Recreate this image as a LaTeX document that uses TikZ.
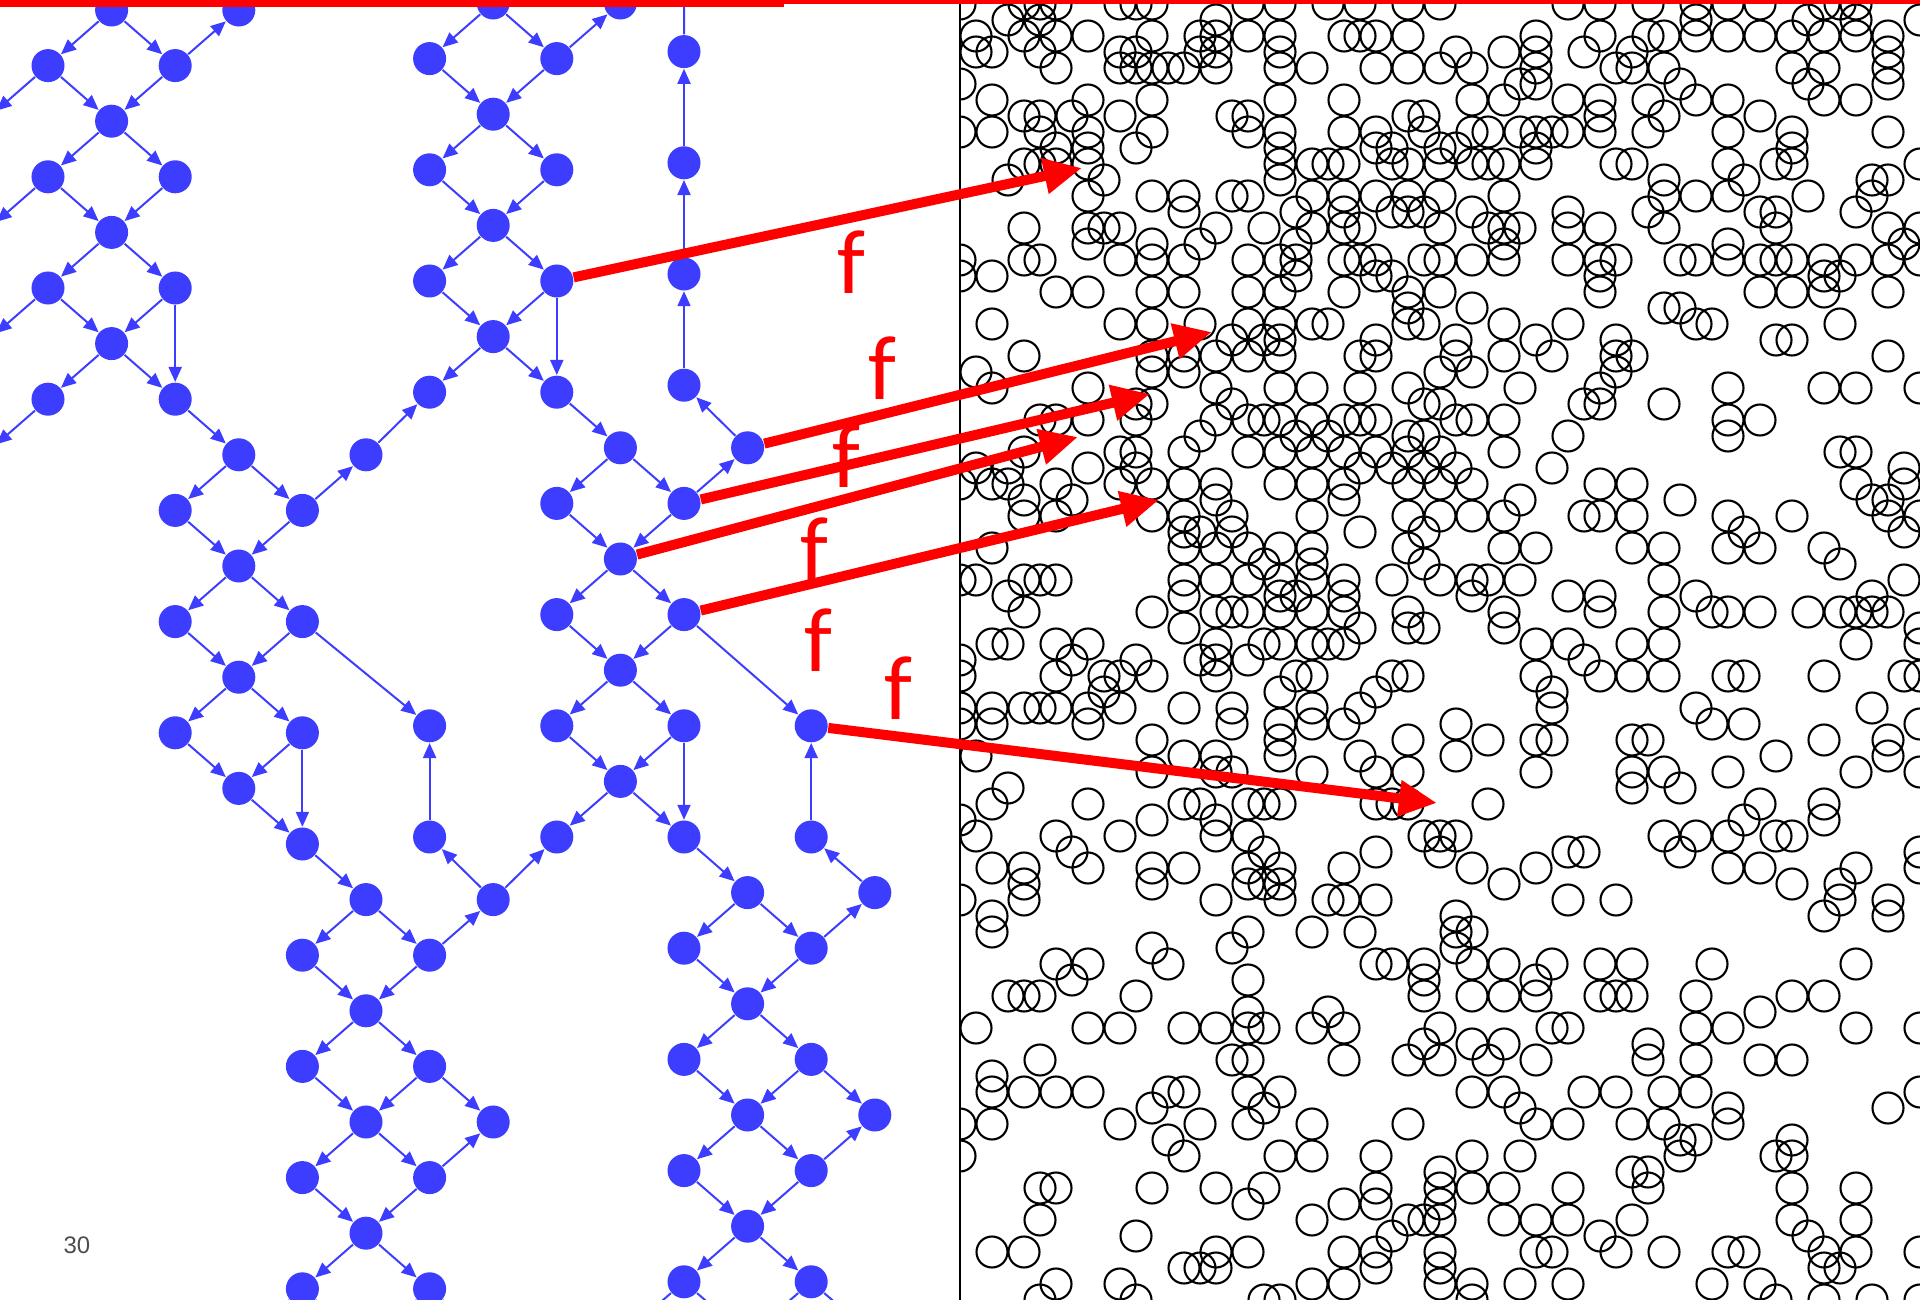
\documentclass[tikz,border=0pt]{standalone}
\usepackage{fontspec}
\newfontfamily\labelfont{Carlito}
\newfontfamily\numfont{Liberation Sans}
\usetikzlibrary{arrows.meta}
\definecolor{nodeblue}{RGB}{61,61,255}

\tikzset{
  dot/.style={circle, fill=nodeblue, inner sep=0pt, minimum size=0.33cm},
  edge/.style={-{Triangle[length=0.15cm,width=0.13cm]}, draw=nodeblue, line width=0.02cm},
  stub/.style={edge, shorten >=0.16cm},
  ring/.style={line width=0.021cm},
  mapto/.style={-{Triangle[length=0.38cm,width=0.34cm]}, draw=red, line width=0.1cm},
  flabel/.style={text=red, font=\labelfont\fontsize{26}{30}\selectfont, inner sep=0pt},
  pagenum/.style={text=black!70, font=\numfont\fontsize{6.8}{8}\selectfont, inner sep=0pt},
}

\begin{document}
\begin{tikzpicture}[x=0.01cm, y=-0.01cm]
    \useasboundingbox (0,0) rectangle (1920,1300);
    \clip (0,0) rectangle (1920,1300);

    % target space
    \begin{scope}
        \clip (960,0) rectangle (1920,1300);
        \pgfmathsetseed{2718}
        \foreach \m in {60,...,120}{
            \foreach \n in {0,...,81}{
                \pgfmathsetmacro\wgt{(mod(\m,2)==0 && mod(\n,2)==0) ? 2.2 : 0.6}
                \pgfmathsetmacro\dd{min(((16*\m-1020)/90)^2+((16*\n+4-260)/90)^2,100)}
                \pgfmathsetmacro\hole{1-0.75/(1+\dd)^2}
                \pgfmathsetmacro\dens{\wgt*\hole*(0.13+0.2/(1+((16*\m-1275)/230)^2+((16*\n+4-520)/290)^2)^2+0.13/(1+((16*\n+4)/230)^4))}
                \pgfmathsetmacro\roll{rnd}
                \ifdim\roll pt<\dens pt\relax
                    \draw[ring] ({16*\m},{16*\n+4}) circle (15.5);
                \fi
            }
        }
    \end{scope}
    \draw[line width=0.02cm] (960,4) -- (960,1300);

    % left lattice
    \foreach \k/\j in {1/0, 3/0, 0/1, 2/1, 1/2, 0/3, 2/3, 1/4, 0/5, 2/5, 1/6, 0/7, 2/7,
        3/8, 5/8, 2/9, 4/9, 3/10, 2/11, 4/11, 3/12, 2/13, 4/13, 3/14, 4/15, 5/16, 7/16,
        4/17, 6/17, 5/18, 4/19, 6/19, 5/20, 7/20, 4/21, 6/21, 5/22, 4/23, 6/23}
        \node[dot] (n\k-\j) at ({48+63.6*\k},{10+55.6*\j}) {};

    % middle lattice
    \foreach \k/\j in {7/0, 9/0, 6/1, 8/1, 7/2, 6/3, 8/3, 7/4, 6/5, 8/5, 7/6, 6/7, 8/7,
        9/8, 11/8, 8/9, 10/9, 9/10, 8/11, 10/11, 9/12, 6/13, 8/13, 10/13, 12/13, 9/14,
        6/15, 8/15, 10/15, 12/15, 11/16, 13/16, 10/17, 12/17, 11/18, 10/19, 12/19,
        11/20, 13/20, 10/21, 12/21, 11/22, 10/23, 12/23}
        \node[dot] (n\k-\j) at ({48+63.6*\k},{3+55.6*\j}) {};

    % chain
    \foreach \j in {1,3,5,7}
        \node[dot] (n10-\j) at ({48+63.6*10},{-4+55.6*\j}) {};

    % edges
    \foreach \a/\b in {1-0/0-1, 1-0/2-1, 2-1/3-0, 0-1/1-2, 2-1/1-2, 1-2/0-3, 1-2/2-3,
        0-3/1-4, 2-3/1-4, 1-4/0-5, 1-4/2-5, 0-5/1-6, 2-5/1-6, 2-5/2-7, 1-6/0-7, 1-6/2-7,
        2-7/3-8, 3-8/2-9, 3-8/4-9, 4-9/5-8, 5-8/6-7, 2-9/3-10, 4-9/3-10, 3-10/2-11,
        3-10/4-11, 4-11/6-13, 2-11/3-12, 4-11/3-12, 3-12/2-13, 3-12/4-13, 2-13/3-14,
        4-13/3-14, 4-13/4-15, 3-14/4-15, 6-15/6-13,
        4-15/5-16, 5-16/4-17, 5-16/6-17, 6-17/7-16, 7-16/6-15, 7-16/8-15, 4-17/5-18,
        6-17/5-18, 5-18/4-19, 5-18/6-19, 6-19/7-20, 4-19/5-20, 6-19/5-20, 5-20/4-21,
        5-20/6-21, 6-21/7-20, 4-21/5-22, 6-21/5-22, 5-22/4-23, 5-22/6-23,
        7-0/6-1, 7-0/8-1, 8-1/9-0, 6-1/7-2, 8-1/7-2, 7-2/6-3, 7-2/8-3, 6-3/7-4, 8-3/7-4,
        7-4/6-5, 7-4/8-5, 6-5/7-6, 8-5/7-6, 8-5/8-7, 7-6/6-7, 7-6/8-7, 8-7/9-8,
        10-7/10-5, 10-5/10-3, 10-3/10-1, 11-8/10-7, 10-9/11-8,
        9-8/8-9, 9-8/10-9, 8-9/9-10, 10-9/9-10, 9-10/8-11, 9-10/10-11, 10-11/12-13,
        8-11/9-12, 10-11/9-12, 9-12/8-13, 9-12/10-13, 8-13/9-14, 10-13/9-14,
        10-13/10-15, 9-14/8-15, 9-14/10-15, 12-15/12-13,
        10-15/11-16, 13-16/12-15, 11-16/10-17, 11-16/12-17, 12-17/13-16, 10-17/11-18,
        12-17/11-18, 11-18/10-19, 11-18/12-19, 12-19/13-20, 10-19/11-20, 12-19/11-20,
        11-20/10-21, 11-20/12-21, 12-21/13-20, 10-21/11-22, 12-21/11-22, 11-22/10-23,
        11-22/12-23}
        \draw[edge] (n\a) -- (n\b);

    % edges leaving the frame
    \foreach \j in {2,4,6,8}
        \coordinate (w\j) at (-15.6,{10+55.6*\j});
    \coordinate (up10) at (684,-60);
    \foreach \k in {3,5,7}
        \coordinate (s\k) at ({48+63.6*\k},1344);
    \foreach \k in {9,11,13}
        \coordinate (s\k) at ({48+63.6*\k},1337);
    \draw[stub] (n0-1) -- (w2);
    \draw[stub] (n0-3) -- (w4);
    \draw[stub] (n0-5) -- (w6);
    \draw[stub] (n0-7) -- (w8);
    \draw[stub] (n10-1) -- (up10);
    \foreach \a/\b in {4-23/3, 4-23/5, 6-23/5, 6-23/7, 10-23/9, 10-23/11, 12-23/11, 12-23/13}
        \draw[stub] (n\a) -- (s\b);

    % the map f
    \coordinate (t1) at (1082,168);
    \coordinate (t2) at (1212,332);
    \coordinate (t3) at (1150,394);
    \coordinate (t4) at (1078,437);
    \coordinate (t5) at (1159,500);
    \coordinate (t6) at (1437,803);
    \draw[mapto] (n8-5) -- (t1);
    \draw[mapto] (n11-8) -- (t2);
    \draw[mapto] (n10-9) -- (t3);
    \draw[mapto] (n9-10) -- (t4);
    \draw[mapto] (n10-11) -- (t5);
    \draw[mapto] (n12-13) -- (t6);
    \node[flabel] (f1) at (851,262) {f};
    \node[flabel] (f2) at (882,368) {f};
    \node[flabel] (f3) at (846,456) {f};
    \node[flabel] (f4) at (814,549) {f};
    \node[flabel] (f5) at (818,640) {f};
    \node[flabel] (f6) at (898,688) {f};

    % top rule and page number
    \fill[red] (0,0) rectangle (784,7);
    \fill[red] (784,0) rectangle (1920,4.5);
    \node[pagenum] (pnum) at (77,1245) {30};
\end{tikzpicture}
\end{document}
